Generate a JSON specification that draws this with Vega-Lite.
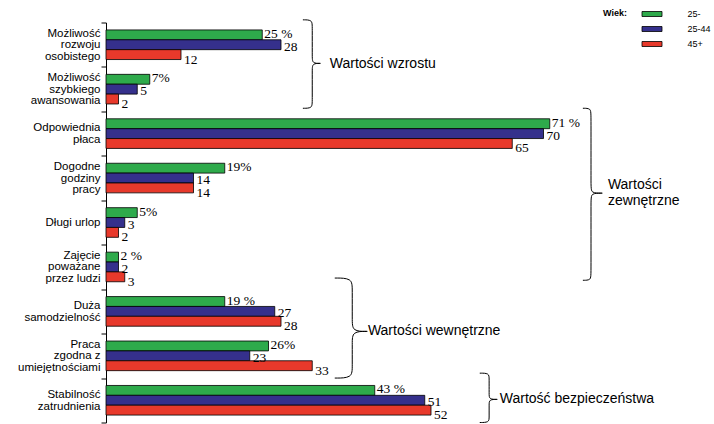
{
  "$schema": "https://vega.github.io/schema/vega-lite/v6.json",
  "width": 600,
  "height": 400,
  "autosize": {"type": "none"},
  "padding": {"left": 106, "top": 22.5, "right": 8, "bottom": 1.5},
  "config": {
    "view": {"stroke": null},
    "font": "Liberation Sans",
    "text": {"font": "Liberation Sans"}
  },
  "datasets": {
    "bars": [
      {"cat": "Możliwość|rozwoju|osobistego", "grp": "25-", "v": 25, "lbl": "25 %"},
      {"cat": "Możliwość|rozwoju|osobistego", "grp": "25-44", "v": 28, "lbl": "28"},
      {"cat": "Możliwość|rozwoju|osobistego", "grp": "45+", "v": 12, "lbl": "12"},
      {"cat": "Możliwość|szybkiego|awansowania", "grp": "25-", "v": 7, "lbl": "7%"},
      {"cat": "Możliwość|szybkiego|awansowania", "grp": "25-44", "v": 5, "lbl": "5"},
      {"cat": "Możliwość|szybkiego|awansowania", "grp": "45+", "v": 2, "lbl": "2"},
      {"cat": "Odpowiednia|płaca", "grp": "25-", "v": 71, "lbl": "71  %"},
      {"cat": "Odpowiednia|płaca", "grp": "25-44", "v": 70, "lbl": "70"},
      {"cat": "Odpowiednia|płaca", "grp": "45+", "v": 65, "lbl": "65"},
      {"cat": "Dogodne|godziny|pracy", "grp": "25-", "v": 19, "lbl": "19%"},
      {"cat": "Dogodne|godziny|pracy", "grp": "25-44", "v": 14, "lbl": "14"},
      {"cat": "Dogodne|godziny|pracy", "grp": "45+", "v": 14, "lbl": "14"},
      {"cat": "Długi urlop", "grp": "25-", "v": 5, "lbl": "5%"},
      {"cat": "Długi urlop", "grp": "25-44", "v": 3, "lbl": "3"},
      {"cat": "Długi urlop", "grp": "45+", "v": 2, "lbl": "2"},
      {"cat": "Zajęcie|poważane|przez ludzi", "grp": "25-", "v": 2, "lbl": "2 %"},
      {"cat": "Zajęcie|poważane|przez ludzi", "grp": "25-44", "v": 2, "lbl": "2"},
      {"cat": "Zajęcie|poważane|przez ludzi", "grp": "45+", "v": 3, "lbl": "3"},
      {"cat": "Duża|samodzielność", "grp": "25-", "v": 19, "lbl": "19  %"},
      {"cat": "Duża|samodzielność", "grp": "25-44", "v": 27, "lbl": "27"},
      {"cat": "Duża|samodzielność", "grp": "45+", "v": 28, "lbl": "28"},
      {"cat": "Praca|zgodna z|umiejętnościami", "grp": "25-", "v": 26, "lbl": "26%"},
      {"cat": "Praca|zgodna z|umiejętnościami", "grp": "25-44", "v": 23, "lbl": "23"},
      {"cat": "Praca|zgodna z|umiejętnościami", "grp": "45+", "v": 33, "lbl": "33"},
      {"cat": "Stabilność|zatrudnienia", "grp": "25-", "v": 43, "lbl": "43 %"},
      {"cat": "Stabilność|zatrudnienia", "grp": "25-44", "v": 51, "lbl": "51"},
      {"cat": "Stabilność|zatrudnienia", "grp": "45+", "v": 52, "lbl": "52"}
    ],
    "braces": [
      {"b": "B1", "i": 0, "x": 31.5, "y": -0.06},
      {"b": "B1", "i": 1, "x": 33.0, "y": -0.06},
      {"b": "B1", "i": 2, "x": 33.0, "y": 0.09},
      {"b": "B1", "i": 3, "x": 33.0, "y": 0.77},
      {"b": "B1", "i": 4, "x": 33.0, "y": 0.92},
      {"b": "B1", "i": 5, "x": 34.3, "y": 0.92},
      {"b": "B1", "i": 6, "x": 34.3, "y": 0.92},
      {"b": "B1", "i": 7, "x": 34.3, "y": 0.92},
      {"b": "B1", "i": 8, "x": 33.0, "y": 0.92},
      {"b": "B1", "i": 9, "x": 33.0, "y": 1.07},
      {"b": "B1", "i": 10, "x": 33.0, "y": 1.78},
      {"b": "B1", "i": 11, "x": 33.0, "y": 1.93},
      {"b": "B1", "i": 12, "x": 31.5, "y": 1.93},
      {"b": "B2", "i": 0, "x": 76.3, "y": 1.93},
      {"b": "B2", "i": 1, "x": 77.6, "y": 1.93},
      {"b": "B2", "i": 2, "x": 77.6, "y": 2.08},
      {"b": "B2", "i": 3, "x": 77.6, "y": 3.69},
      {"b": "B2", "i": 4, "x": 77.6, "y": 3.84},
      {"b": "B2", "i": 5, "x": 79.4, "y": 3.84},
      {"b": "B2", "i": 6, "x": 79.4, "y": 3.84},
      {"b": "B2", "i": 7, "x": 79.4, "y": 3.84},
      {"b": "B2", "i": 8, "x": 77.6, "y": 3.84},
      {"b": "B2", "i": 9, "x": 77.6, "y": 3.99},
      {"b": "B2", "i": 10, "x": 77.6, "y": 5.65},
      {"b": "B2", "i": 11, "x": 77.6, "y": 5.80},
      {"b": "B2", "i": 12, "x": 76.3, "y": 5.80},
      {"b": "B3", "i": 0, "x": 36.6, "y": 5.75},
      {"b": "B3", "i": 1, "x": 39.4, "y": 5.75},
      {"b": "B3", "i": 2, "x": 39.4, "y": 6.0},
      {"b": "B3", "i": 3, "x": 39.4, "y": 6.7},
      {"b": "B3", "i": 4, "x": 39.4, "y": 6.95},
      {"b": "B3", "i": 5, "x": 41.8, "y": 6.95},
      {"b": "B3", "i": 6, "x": 41.8, "y": 6.95},
      {"b": "B3", "i": 7, "x": 41.8, "y": 6.95},
      {"b": "B3", "i": 8, "x": 39.4, "y": 6.95},
      {"b": "B3", "i": 9, "x": 39.4, "y": 7.2},
      {"b": "B3", "i": 10, "x": 39.4, "y": 7.75},
      {"b": "B3", "i": 11, "x": 39.4, "y": 8.0},
      {"b": "B3", "i": 12, "x": 36.6, "y": 8.0},
      {"b": "B4", "i": 0, "x": 59.8, "y": 7.89},
      {"b": "B4", "i": 1, "x": 61.3, "y": 7.89},
      {"b": "B4", "i": 2, "x": 61.3, "y": 8.01},
      {"b": "B4", "i": 3, "x": 61.3, "y": 8.36},
      {"b": "B4", "i": 4, "x": 61.3, "y": 8.48},
      {"b": "B4", "i": 5, "x": 62.6, "y": 8.48},
      {"b": "B4", "i": 6, "x": 62.6, "y": 8.48},
      {"b": "B4", "i": 7, "x": 62.6, "y": 8.48},
      {"b": "B4", "i": 8, "x": 61.3, "y": 8.48},
      {"b": "B4", "i": 9, "x": 61.3, "y": 8.6},
      {"b": "B4", "i": 10, "x": 61.3, "y": 8.88},
      {"b": "B4", "i": 11, "x": 61.3, "y": 9.0},
      {"b": "B4", "i": 12, "x": 59.8, "y": 9.0}
    ],
    "blabels": [
      {"t": "Wartości wzrostu", "x": 35.8, "y": 0.93},
      {"t": "Wartości\nzewnętrzne", "x": 80.3, "y": 3.66},
      {"t": "Wartości wewnętrzne", "x": 41.9, "y": 6.95},
      {"t": "Wartość bezpieczeństwa", "x": 63.0, "y": 8.48}
    ]
  },
  "layer": [
    {
      "data": {"name": "bars"},
      "encoding": {
        "y": {
          "field": "cat", "type": "nominal", "sort": null,
          "scale": {"paddingInner": 0, "paddingOuter": 0},
          "axis": {
            "title": null,
            "labelExpr": "split(datum.label, '|')",
            "labelFont": "Liberation Sans",
            "labelFontSize": 11.5,
            "labelLineHeight": 11.5,
            "labelColor": "black",
            "labelPadding": 1,
            "labelOffset": {
              "condition": [
                {"test": "length(split(datum.value, '|')) == 3", "value": -11.5},
                {"test": "length(split(datum.value, '|')) == 2", "value": -5.75}
              ],
              "value": 0
            },
            "tickSize": 5,
            "tickBand": "extent",
            "tickColor": "black",
            "domainColor": "black",
            "grid": false
          }
        },
        "yOffset": {"field": "grp", "type": "nominal", "sort": null,
          "scale": {"paddingOuter": 0.75, "paddingInner": 0}},
        "x": {"field": "v", "type": "quantitative", "scale": {"domain": [0, 96], "nice": false}, "axis": null}
      },
      "layer": [
        {
          "mark": {"type": "bar", "stroke": "black", "strokeWidth": 0.8},
          "encoding": {
            "color": {
              "field": "grp", "type": "nominal",
              "scale": {"domain": ["25-", "25-44", "45+"], "range": ["#2EAA4B", "#35308C", "#E8392B"]},
              "legend": {
                "title": "Wiek:",
                "orient": "none",
                "legendX": 497,
                "legendY": -14,
                "padding": 0,
                "titleOrient": "left",
                "titleAnchor": "start",
                "titleFontSize": 9,
                "titleFont": "Liberation Sans",
                "titleFontWeight": "bold",
                "titleColor": "black",
                "titlePadding": 12,
                "symbolType": "M-2,-0.5L2,-0.5L2,0.5L-2,0.5Z",
                "symbolSize": 100,
                "symbolStrokeColor": "black",
                "symbolStrokeWidth": 0.8,
                "symbolOpacity": 1,
                "symbolOffset": 7.5,
                "labelOffset": 30,
                "labelFontSize": 9,
                "labelFont": "Liberation Sans",
                "labelColor": "black",
                "rowPadding": 4
              }
            }
          }
        },
        {
          "transform": [{"filter": "datum.grp == '25-'"}],
          "mark": {"type": "text", "align": "left", "baseline": "middle", "dx": 2, "dy": -1, "font": "Liberation Serif", "fontSize": 13.5, "color": "black"},
          "encoding": {"text": {"field": "lbl"}}
        },
        {
          "transform": [{"filter": "datum.grp == '25-44'"}],
          "mark": {"type": "text", "align": "left", "baseline": "middle", "dx": 3, "dy": 2, "font": "Liberation Serif", "fontSize": 13.5, "color": "black"},
          "encoding": {"text": {"field": "lbl"}}
        },
        {
          "transform": [{"filter": "datum.grp == '45+'"}],
          "mark": {"type": "text", "align": "left", "baseline": "middle", "dx": 3, "dy": 5, "font": "Liberation Serif", "fontSize": 13.5, "color": "black"},
          "encoding": {"text": {"field": "lbl"}}
        }
      ]
    },
    {
      "encoding": {
        "x": {"field": "x", "type": "quantitative", "scale": {"domain": [0, 96], "nice": false}, "axis": null},
        "y": {"field": "y", "type": "quantitative", "scale": {"domain": [0, 9], "nice": false, "zero": false, "reverse": true}, "axis": null}
      },
      "layer": [
        {
          "data": {"name": "braces"},
          "mark": {"type": "line", "interpolate": "basis", "color": "black", "strokeWidth": 1},
          "encoding": {
            "detail": {"field": "b"},
            "order": {"field": "i", "type": "quantitative"}
          }
        },
        {
          "data": {"name": "blabels"},
          "mark": {"type": "text", "align": "left", "baseline": "middle", "lineBreak": "\n", "lineHeight": 15.5, "font": "Liberation Sans", "fontSize": 14, "color": "black"},
          "encoding": {"text": {"field": "t"}}
        }
      ]
    }
  ],
  "resolve": {"scale": {"y": "independent"}}
}
